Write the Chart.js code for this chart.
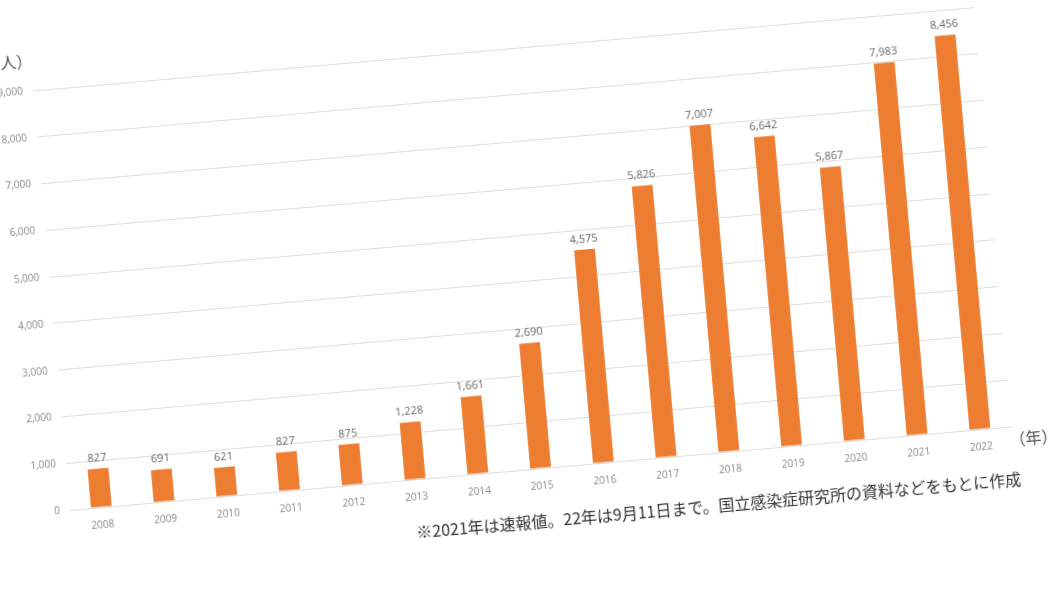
<!DOCTYPE html>
<html lang="ja">

<head>
    <meta charset="UTF-8">
    <title>感染者数の推移</title>
    <script src="https://cdn.jsdelivr.net/npm/chart.js"></script>
    <style>
        html, body { margin: 0; padding: 0; background: #fff; overflow: hidden; width: 1050px; height: 590px; }
        #wrap {
            position: absolute;
            left: 10px;
            top: 60px;
            width: 1080px;
            height: 520px;
            transform-origin: 60px 450px;
            transform: rotate(-5.07deg);
        }
        #wrap canvas { position: absolute; left: 0; top: 0; }
        .unidade { position: absolute; font-family: "Noto Sans CJK JP", sans-serif; color: #555; font-size: 16px; }
        #nota {
            position: absolute; right: 70px; top: 490px;
            font-family: "Noto Sans CJK JP", sans-serif; font-size: 16px; color: #333; white-space: nowrap;
        }
    </style>
</head>

<body>
    <div id="wrap">
        <canvas id="canvas_grafico" width="1080" height="520"></canvas>
        <div class="unidade" style="left:14px; top:-14px;">（人）</div>
        <div class="unidade" style="left:1002px; top:450px;">（年）</div>
        <div id="nota">※2021年は速報値。22年は9月11日まで。国立感染症研究所の資料などをもとに作成</div>
    </div>

    <script>
        // dados do gráfico
        const anos = ['2008', '2009', '2010', '2011', '2012', '2013', '2014', '2015',
            '2016', '2017', '2018', '2019', '2020', '2021', '2022'];
        const casos = [827, 691, 621, 827, 875, 1228, 1661, 2690,
            4575, 5826, 7007, 6642, 5867, 7983, 8456];
        const ticksY = [0, 1000, 2000, 3000, 4000, 5000, 6000, 7000, 8000, 9000];

        // escreve o valor em cima de cada barra
        const rotulosBarras = {
            id: 'rotulosBarras',
            afterDatasetsDraw(chart) {
                const ctx = chart.ctx;
                const meta = chart.getDatasetMeta(0);
                ctx.save();
                ctx.font = '11px "Open Sans", sans-serif';
                ctx.fillStyle = '#666';
                ctx.textAlign = 'center';
                ctx.textBaseline = 'bottom';
                meta.data.forEach(function (barra, i) {
                    ctx.fillText(casos[i].toLocaleString('en-US'), barra.x, barra.y - 5);
                });
                ctx.restore();
            }
        };

        const config = {
            type: 'bar',
            data: {
                labels: anos,
                datasets: [{
                    data: casos,
                    backgroundColor: '#ED7D31',
                    borderWidth: 0,
                    barPercentage: 0.66,
                    categoryPercentage: 0.5
                }]
            },
            options: {
                responsive: false,
                animation: false,
                layout: { padding: { left: 0, right: 75, top: 29, bottom: 40 } },
                plugins: { legend: { display: false }, tooltip: { enabled: false } },
                scales: {
                    x: {
                        grid: { display: false },
                        border: { display: true, color: '#dedede' },
                        ticks: {
                            color: '#888',
                            font: { family: '"Open Sans", sans-serif', size: 10 },
                            padding: 4,
                            maxRotation: 0
                        },
                        afterFit: function (scale) { scale.height = 30; }
                    },
                    y: {
                        min: 0,
                        max: 9000,
                        afterBuildTicks: function (scale) {
                            scale.ticks = ticksY.map(function (v) { return { value: v }; });
                        },
                        grid: { color: '#dedede', drawTicks: false },
                        border: { display: false },
                        ticks: {
                            color: '#888',
                            font: { family: '"Open Sans", sans-serif', size: 10 },
                            padding: 10,
                            callback: function (v) { return v.toLocaleString('en-US'); }
                        },
                        afterFit: function (scale) { scale.width = 60; }
                    }
                }
            },
            plugins: [rotulosBarras]
        };

        let meuGrafico = new Chart(document.getElementById('canvas_grafico'), config);
    </script>
</body>

</html>
